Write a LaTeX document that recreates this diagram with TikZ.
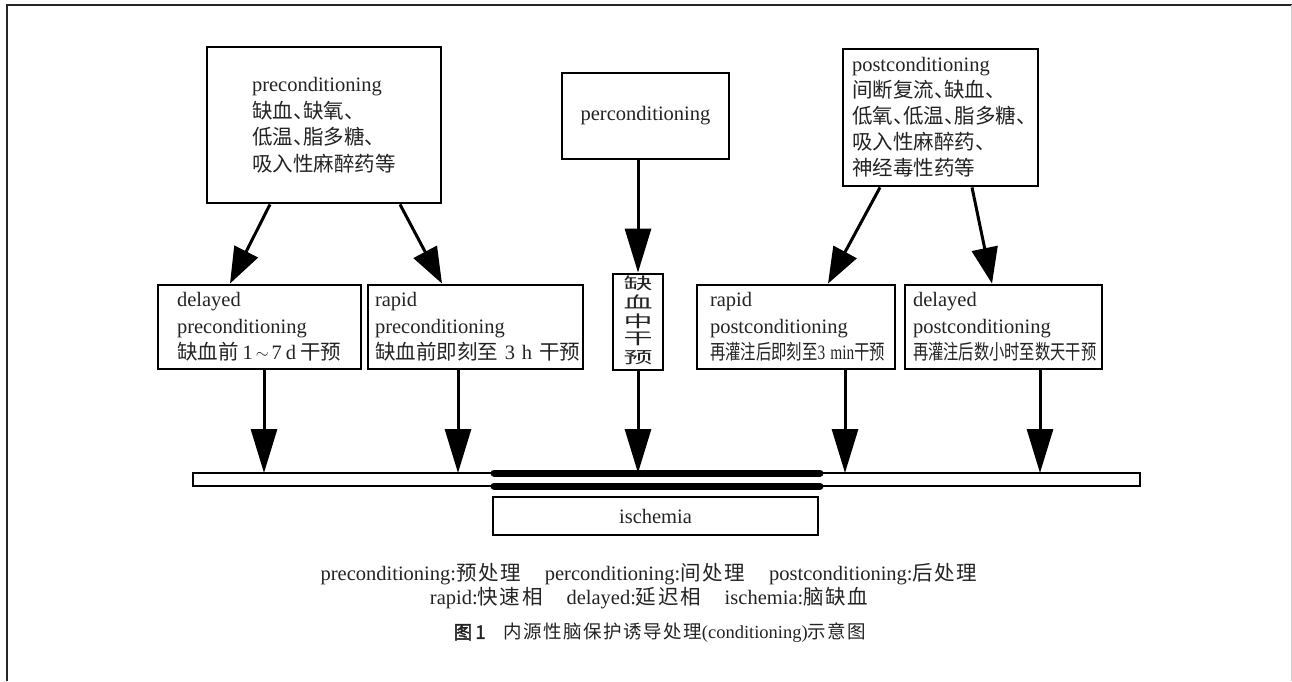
\documentclass[tikz,border=0pt]{standalone}
\usepackage{fontspec}
\usepackage{graphicx}
\usetikzlibrary{arrows.meta}
\setmainfont{Liberation Serif}
\newfontfamily\cjk{Noto Sans CJK SC}
\newfontfamily\cjksp[LetterSpace=8]{Noto Sans CJK SC}
\newfontfamily\cjkb[FakeBold=2]{Noto Sans CJK SC}
\newcommand\zh[1]{{\cjk #1}}
\newcommand\zs[1]{{\cjksp #1}}
\newcommand\dun{\makebox[0.5em][l]{\cjk 、}}
\definecolor{txt}{RGB}{35,35,35}
\tikzset{
  box/.style={draw=black, line width=2.8pt, inner sep=0pt, text=txt},
  boxtext/.style={font=\fontsize{20.5}{26.5}\selectfont, align=left},
  arr/.style={line width=3pt, -{Triangle[length=44pt,width=26pt]}},
  darr/.style={line width=3pt, -{Triangle[length=36pt,width=26pt]}},
  captext/.style={font=\fontsize{20.5}{24}\selectfont, text=txt, inner sep=0pt},
}
\begin{document}
\begin{tikzpicture}[x=1pt,y=-1pt]
\useasboundingbox (0,0) rectangle (1292,681);
% frame
\draw[line width=2.4pt, black!85] (7,681) -- (7,5) -- (1292,5);
\draw[line width=1pt, black!20] (1291,5) -- (1291,681);

% top boxes
\node[box, boxtext, minimum width=234pt, minimum height=156pt, text width=144pt] (pre) at (324,125)
  {preconditioning\\ \zh{缺血}\dun\zh{缺氧}\dun\\ \zh{低温}\dun\zh{脂多糖}\dun\\ \zh{吸入性麻醉药等}};
\node[box, font=\fontsize{20.5}{24}\selectfont, minimum width=167pt, minimum height=86pt] (per) at (645.5,116)
  {perconditioning};
\node[box, font=\fontsize{20.5}{26}\selectfont, align=left, minimum width=195pt, minimum height=137pt, text width=177pt] (post) at (940.5,117.5)
  {postconditioning\\ \zh{间断复流}\dun\zh{缺血}\dun\\ \zh{低氧}\dun\zh{低温}\dun\zh{脂多糖}\dun\\ \zh{吸入性麻醉药}\dun\\ \zh{神经毒性药等}};

% middle boxes
\node[box, boxtext, minimum width=203pt, minimum height=84pt, text width=165pt] (dpre) at (259.5,327)
  {delayed\\ preconditioning\\ \mbox{\zh{缺血前}\hspace{4pt}1\hspace{3pt}\raisebox{1pt}{\scalebox{0.8}{$\sim$}}\hspace{3pt}7\hspace{4pt}d\hspace{4pt}\zh{干预}}};
\node[box, boxtext, minimum width=215pt, minimum height=84pt, text width=201pt] (rpre) at (475.5,327)
  {rapid\\ preconditioning\\ \mbox{\zh{缺血前即刻至} 3 h \zh{干预}}};
\node[box, font=\cjk\fontsize{29}{31}\selectfont, minimum width=50pt, minimum height=96pt] (vb) at (638,322)
  {\scalebox{1}[0.56]{\begin{tabular}{@{}c@{}}缺\\血\\中\\干\\预\end{tabular}}};
\node[box, boxtext, minimum width=198pt, minimum height=84pt, text width=172pt] (rpost) at (796,327)
  {rapid\\ postconditioning\\ \scalebox{0.75}[1]{\zh{再灌注后即刻至}3 min\zh{干预}}};
\node[box, boxtext, minimum width=197pt, minimum height=84pt, text width=181pt] (dpost) at (1003.5,327)
  {delayed\\ postconditioning\\ \scalebox{0.745}[1]{\zh{再灌注后数小时至数天干预}}};

% timeline
\node[draw, line width=2.2pt, minimum width=947pt, minimum height=13pt, inner sep=0pt] (tl) at (666.5,479.5) {};
\draw[line width=7pt, line cap=round] (494,473) -- (820,473);
\draw[line width=7pt, line cap=round] (494,486) -- (820,486);
\coordinate (t1) at (264,473);
\coordinate (t2) at (458,473);
\coordinate (t3) at (638,473);
\coordinate (t4) at (845,473);
\coordinate (t5) at (1040,473);

\node[box, font=\fontsize{20.5}{24}\selectfont, minimum width=325pt, minimum height=38pt] (isc) at (655.5,516) {ischemia};

% diagonal arrows
\draw[darr] ([xshift=-54pt]pre.south) -- ([xshift=-29.5pt]dpre.north);
\draw[darr] ([xshift=76pt]pre.south) -- ([xshift=-33.5pt]rpre.north);
\draw[darr] ([xshift=-60.5pt]post.south) -- ([xshift=32pt]rpost.north);
\draw[darr] ([xshift=31.5pt]post.south) -- ([xshift=-11.5pt]dpost.north);

% vertical arrows
\draw[arr] (vb.north |- per.south) -- (vb.north);
\draw[arr] (t1 |- dpre.south) -- (t1);
\draw[arr] (t2 |- rpre.south) -- (t2);
\draw[arr] (vb.south) -- (t3);
\draw[arr] (t4 |- rpost.south) -- (t4);
\draw[arr] (t5 |- dpost.south) -- (t5);

% captions
\node[captext] (c1) at (649,574) {preconditioning:\zs{预处理}\hspace{24pt}perconditioning:\zs{间处理}\hspace{24pt}postconditioning:\zs{后处理}};
\node[captext] (c2) at (649,598) {rapid:\zs{快速相}\hspace{24pt}delayed:\zs{延迟相}\hspace{24pt}ischemia:\zs{脑缺血}};
\node[captext, font=\fontsize{18.5}{22}\selectfont] (c3) at (660,633) {{\cjkb 图\,1}\hspace{18pt}\zs{内源性脑保护诱导处理}(conditioning)\zs{示意图}};
\end{tikzpicture}
\end{document}
